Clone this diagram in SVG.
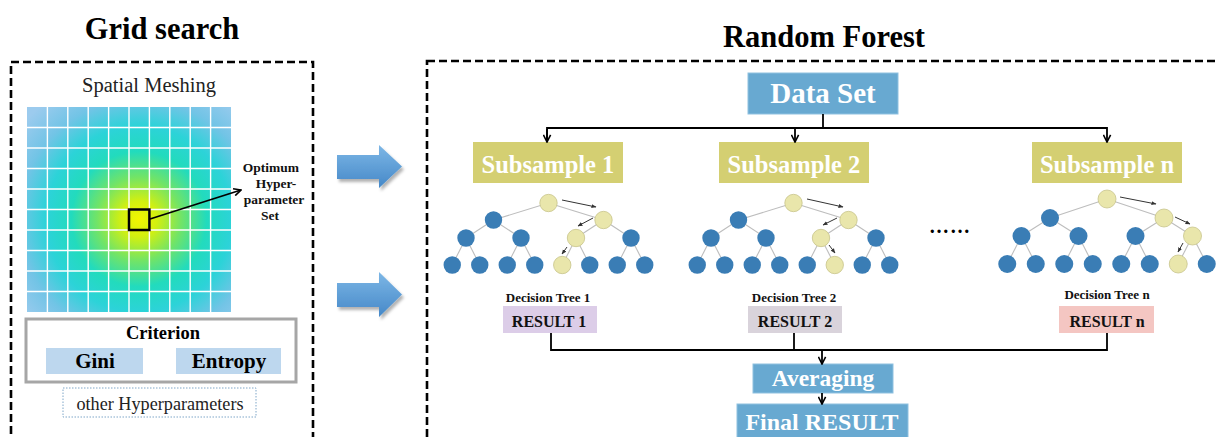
<svg xmlns="http://www.w3.org/2000/svg" width="1217" height="437" viewBox="0 0 1217 437">
<defs>
  <style>
    text { font-family: "Liberation Serif", "Times New Roman", serif; text-anchor: middle; }
    .b { font-weight: bold; }
    .title { font-size: 30.5px; font-weight: bold; fill: #000; }
    .dash { fill: none; stroke: #000; stroke-width: 2.6; stroke-dasharray: 8 4; }
    .conn { fill: none; stroke: #000; stroke-width: 1.8; }
    .edge { stroke: #bdbdbd; stroke-width: 1.1; }
    .bn { fill: #3a7db5; }
    .yn { fill: #e9e6ab; stroke: #c8c48c; stroke-width: 0.8; }
    .ta { stroke: #333; stroke-width: 1; marker-end: url(#small); }
    .sub { fill: #d4cf72; }
    .subt { font-size: 24.5px; font-weight: bold; fill: #fff; }
    .blue { fill: #68a9d1; stroke: #8fc1e0; stroke-width: 1; }
    .bluet { font-weight: bold; fill: #fff; }
    .dt { font-size: 13px; font-weight: bold; fill: #111; }
    .rt { font-size: 16px; font-weight: bold; fill: #111; }
    .gl { stroke: #ffffff; stroke-width: 1.4; }
    .opt { font-size: 13.5px; font-weight: bold; fill: #111; }
  </style>
  <radialGradient id="heat" gradientUnits="userSpaceOnUse" cx="139" cy="219" r="150">
    <stop offset="0" stop-color="#f2f500"/>
    <stop offset="0.12" stop-color="#d2f010"/>
    <stop offset="0.28" stop-color="#72e466"/>
    <stop offset="0.45" stop-color="#22dbbd"/>
    <stop offset="0.62" stop-color="#2cd3d8"/>
    <stop offset="0.8" stop-color="#72c4e6"/>
    <stop offset="1" stop-color="#9ccbee"/>
  </radialGradient>
  <linearGradient id="arrowGrad" x1="0" y1="0" x2="0" y2="1">
    <stop offset="0" stop-color="#7db7e6"/>
    <stop offset="1" stop-color="#4588c8"/>
  </linearGradient>
  <filter id="shadow" x="-20%" y="-20%" width="150%" height="150%">
    <feDropShadow dx="2" dy="3" stdDeviation="1.5" flood-color="#000" flood-opacity="0.3"/>
  </filter>
  <marker id="open" viewBox="0 0 10 10" refX="9" refY="5" markerUnits="userSpaceOnUse" markerWidth="9" markerHeight="9" orient="auto">
    <path d="M1,1 L9,5 L1,9" fill="none" stroke="#000" stroke-width="1.8"/>
  </marker>
  <marker id="small" viewBox="0 0 10 10" refX="9" refY="5" markerUnits="userSpaceOnUse" markerWidth="5" markerHeight="5" orient="auto">
    <path d="M0,1 L10,5 L0,9 z" fill="#333"/>
  </marker>
</defs>

<rect width="1217" height="437" fill="#ffffff"/>

<!-- Titles -->
<text class="title" x="162" y="39">Grid search</text>
<text class="title" x="824" y="47">Random Forest</text>

<!-- Frames -->
<rect class="dash" x="11" y="62" width="302" height="400"/>
<rect class="dash" x="427" y="61" width="820" height="400"/>

<!-- Grid search panel -->
<g id="spatial-meshing">
  <text x="149" y="92" font-size="20.5px" fill="#222">Spatial Meshing</text>
  <rect x="27" y="107" width="204" height="205" fill="url(#heat)"/>
  <g class="gl">
    <line x1="47.4" y1="107" x2="47.4" y2="312"/>
    <line x1="67.8" y1="107" x2="67.8" y2="312"/>
    <line x1="88.2" y1="107" x2="88.2" y2="312"/>
    <line x1="108.6" y1="107" x2="108.6" y2="312"/>
    <line x1="129" y1="107" x2="129" y2="312"/>
    <line x1="149.4" y1="107" x2="149.4" y2="312"/>
    <line x1="169.8" y1="107" x2="169.8" y2="312"/>
    <line x1="190.2" y1="107" x2="190.2" y2="312"/>
    <line x1="210.6" y1="107" x2="210.6" y2="312"/>
    <line x1="27" y1="127.5" x2="231" y2="127.5"/>
    <line x1="27" y1="148" x2="231" y2="148"/>
    <line x1="27" y1="168.5" x2="231" y2="168.5"/>
    <line x1="27" y1="189" x2="231" y2="189"/>
    <line x1="27" y1="209.5" x2="231" y2="209.5"/>
    <line x1="27" y1="230" x2="231" y2="230"/>
    <line x1="27" y1="250.5" x2="231" y2="250.5"/>
    <line x1="27" y1="271" x2="231" y2="271"/>
    <line x1="27" y1="291.5" x2="231" y2="291.5"/>
  </g>
  <rect x="129" y="209.5" width="20.4" height="20.5" fill="none" stroke="#000" stroke-width="2.5"/>
</g>

<g id="optimum">
  <text class="opt" x="271" y="172">Optimum</text>
  <text class="opt" x="276" y="188">Hyper-</text>
  <text class="opt" x="274" y="204">parameter</text>
  <text class="opt" x="270" y="220">Set</text>
</g>

<g id="criterion">
  <rect x="26" y="319" width="270" height="63" fill="#fff" stroke="#a6a6a6" stroke-width="3"/>
  <text class="b" x="163" y="339" font-size="18.5px">Criterion</text>
</g>
<g id="gini">
  <rect x="46" y="348" width="97" height="26" fill="#bdd7ee"/>
  <text class="b" x="95" y="368" font-size="21px">Gini</text>
</g>
<g id="entropy">
  <rect x="176" y="348" width="105" height="26" fill="#bdd7ee"/>
  <text class="b" x="229" y="368" font-size="21px">Entropy</text>
</g>
<g id="other-hyperparameters">
  <rect x="63" y="388" width="193" height="29" fill="#fff" stroke="#7fa6c8" stroke-width="1" stroke-dasharray="1.5 1.5"/>
  <text x="160" y="410" font-size="18.2px" fill="#222">other Hyperparameters</text>
</g>

<!-- Big blue arrows -->
<g id="big-arrows" filter="url(#shadow)">
  <polygon points="337,155 379,155 379,145 402,166.5 379,188 379,179 337,179" fill="url(#arrowGrad)"/>
  <polygon points="337,283 379,283 379,272 402,294.5 379,317 379,307 337,307" fill="url(#arrowGrad)"/>
</g>

<!-- Random forest nodes -->
<g id="data-set">
  <rect class="blue" x="748" y="73" width="150" height="41"/>
  <text class="bluet" x="823" y="103" font-size="29px">Data Set</text>
</g>
<g id="subsample-1">
  <rect class="sub" x="473" y="142" width="150" height="41"/>
  <text class="subt" x="548" y="173">Subsample 1</text>
</g>
<g id="subsample-2">
  <rect class="sub" x="719" y="142" width="150" height="41"/>
  <text class="subt" x="794" y="173">Subsample 2</text>
</g>
<g id="subsample-n">
  <rect class="sub" x="1032" y="142" width="150" height="41"/>
  <text class="subt" x="1107" y="173">Subsample n</text>
</g>

<!-- Tree 1 -->
<g id="tree-1">
  <g class="edge">
    <line x1="548.5" y1="203" x2="493.5" y2="220"/><line x1="548.5" y1="203" x2="603.5" y2="220"/>
    <line x1="493.5" y1="220" x2="466" y2="238"/><line x1="493.5" y1="220" x2="521" y2="238"/>
    <line x1="603.5" y1="220" x2="576" y2="238"/><line x1="603.5" y1="220" x2="631" y2="238"/>
    <line x1="466" y1="238" x2="452.25" y2="265"/><line x1="466" y1="238" x2="479.75" y2="265"/>
    <line x1="521" y1="238" x2="507.25" y2="265"/><line x1="521" y1="238" x2="534.75" y2="265"/>
    <line x1="576" y1="238" x2="562.25" y2="265"/><line x1="576" y1="238" x2="589.75" y2="265"/>
    <line x1="631" y1="238" x2="617.25" y2="265"/><line x1="631" y1="238" x2="644.75" y2="265"/>
  </g>
  <circle class="yn" cx="548.5" cy="203" r="8.7"/>
  <circle class="bn" cx="493.5" cy="220" r="8.7"/>
  <circle class="yn" cx="603.5" cy="220" r="8.7"/>
  <circle class="bn" cx="466" cy="238" r="8.7"/>
  <circle class="bn" cx="521" cy="238" r="8.7"/>
  <circle class="yn" cx="576" cy="238" r="8.7"/>
  <circle class="bn" cx="631" cy="238" r="8.7"/>
  <circle class="bn" cx="452.25" cy="265" r="8.7"/>
  <circle class="bn" cx="479.75" cy="265" r="8.7"/>
  <circle class="bn" cx="507.25" cy="265" r="8.7"/>
  <circle class="bn" cx="534.75" cy="265" r="8.7"/>
  <circle class="yn" cx="562.25" cy="265" r="8.7"/>
  <circle class="bn" cx="589.75" cy="265" r="8.7"/>
  <circle class="bn" cx="617.25" cy="265" r="8.7"/>
  <circle class="bn" cx="644.75" cy="265" r="8.7"/>
  <line class="ta" x1="562" y1="200" x2="596" y2="207"/>
  <line class="ta" x1="593" y1="218" x2="578" y2="226"/>
  <line class="ta" x1="567" y1="247" x2="562" y2="254"/>
</g>

<!-- Tree 2 -->
<g id="tree-2">
  <g class="edge">
    <line x1="793.5" y1="203" x2="738.5" y2="220"/><line x1="793.5" y1="203" x2="848.5" y2="220"/>
    <line x1="738.5" y1="220" x2="711" y2="238"/><line x1="738.5" y1="220" x2="766" y2="238"/>
    <line x1="848.5" y1="220" x2="821" y2="238"/><line x1="848.5" y1="220" x2="876" y2="238"/>
    <line x1="711" y1="238" x2="697.25" y2="265"/><line x1="711" y1="238" x2="724.75" y2="265"/>
    <line x1="766" y1="238" x2="752.25" y2="265"/><line x1="766" y1="238" x2="779.75" y2="265"/>
    <line x1="821" y1="238" x2="807.25" y2="265"/><line x1="821" y1="238" x2="834.75" y2="265"/>
    <line x1="876" y1="238" x2="862.25" y2="265"/><line x1="876" y1="238" x2="889.75" y2="265"/>
  </g>
  <circle class="yn" cx="793.5" cy="203" r="8.7"/>
  <circle class="bn" cx="738.5" cy="220" r="8.7"/>
  <circle class="yn" cx="848.5" cy="220" r="8.7"/>
  <circle class="bn" cx="711" cy="238" r="8.7"/>
  <circle class="bn" cx="766" cy="238" r="8.7"/>
  <circle class="yn" cx="821" cy="238" r="8.7"/>
  <circle class="bn" cx="876" cy="238" r="8.7"/>
  <circle class="bn" cx="697.25" cy="265" r="8.7"/>
  <circle class="bn" cx="724.75" cy="265" r="8.7"/>
  <circle class="bn" cx="752.25" cy="265" r="8.7"/>
  <circle class="bn" cx="779.75" cy="265" r="8.7"/>
  <circle class="bn" cx="807.25" cy="265" r="8.7"/>
  <circle class="yn" cx="834.75" cy="265" r="8.7"/>
  <circle class="bn" cx="862.25" cy="265" r="8.7"/>
  <circle class="bn" cx="889.75" cy="265" r="8.7"/>
  <line class="ta" x1="807" y1="199" x2="843" y2="207"/>
  <line class="ta" x1="837" y1="218" x2="823" y2="225"/>
  <line class="ta" x1="829" y1="245" x2="835" y2="253"/>
</g>

<text class="b" x="950" y="233" font-size="20px" letter-spacing="1">……</text>

<!-- Tree n -->
<g id="tree-n">
  <g class="edge">
    <line x1="1107" y1="199" x2="1050" y2="218"/><line x1="1107" y1="199" x2="1164" y2="218"/>
    <line x1="1050" y1="218" x2="1021.5" y2="236"/><line x1="1050" y1="218" x2="1078.5" y2="236"/>
    <line x1="1164" y1="218" x2="1135.5" y2="236"/><line x1="1164" y1="218" x2="1192.5" y2="236"/>
    <line x1="1021.5" y1="236" x2="1007.25" y2="264"/><line x1="1021.5" y1="236" x2="1035.75" y2="264"/>
    <line x1="1078.5" y1="236" x2="1064.25" y2="264"/><line x1="1078.5" y1="236" x2="1092.75" y2="264"/>
    <line x1="1135.5" y1="236" x2="1121.25" y2="264"/><line x1="1135.5" y1="236" x2="1149.75" y2="264"/>
    <line x1="1192.5" y1="236" x2="1178.25" y2="264"/><line x1="1192.5" y1="236" x2="1206.75" y2="264"/>
  </g>
  <circle class="yn" cx="1107" cy="199" r="9"/>
  <circle class="bn" cx="1050" cy="218" r="9"/>
  <circle class="yn" cx="1164" cy="218" r="9"/>
  <circle class="bn" cx="1021.5" cy="236" r="9"/>
  <circle class="bn" cx="1078.5" cy="236" r="9"/>
  <circle class="bn" cx="1135.5" cy="236" r="9"/>
  <circle class="yn" cx="1192.5" cy="236" r="9"/>
  <circle class="bn" cx="1007.25" cy="264" r="9"/>
  <circle class="bn" cx="1035.75" cy="264" r="9"/>
  <circle class="bn" cx="1064.25" cy="264" r="9"/>
  <circle class="bn" cx="1092.75" cy="264" r="9"/>
  <circle class="bn" cx="1121.25" cy="264" r="9"/>
  <circle class="bn" cx="1149.75" cy="264" r="9"/>
  <circle class="yn" cx="1178.25" cy="264" r="9"/>
  <circle class="bn" cx="1206.75" cy="264" r="9"/>
  <line class="ta" x1="1120" y1="197" x2="1156" y2="204"/>
  <line class="ta" x1="1175" y1="217" x2="1190" y2="224"/>
  <line class="ta" x1="1183" y1="243" x2="1178" y2="252"/>
</g>

<!-- Results -->
<g id="result-1">
  <text class="dt" x="548" y="302">Decision Tree 1</text>
  <rect x="503" y="306" width="94" height="27" fill="#dccde8"/>
  <text class="rt" x="549" y="327">RESULT 1</text>
</g>
<g id="result-2">
  <text class="dt" x="794" y="302">Decision Tree 2</text>
  <rect x="748" y="306" width="94" height="27" fill="#d9d3db"/>
  <text class="rt" x="795" y="327">RESULT 2</text>
</g>
<g id="result-n">
  <text class="dt" x="1107" y="299">Decision Tree n</text>
  <rect x="1059" y="306" width="95" height="27" fill="#f4c6c2"/>
  <text class="rt" x="1107" y="327">RESULT n</text>
</g>

<g id="averaging">
  <rect class="blue" x="753" y="364" width="140" height="29"/>
  <text class="bluet" x="823" y="386" font-size="23.5px">Averaging</text>
</g>
<g id="final-result">
  <rect class="blue" x="737" y="404" width="171" height="40"/>
  <text class="bluet" x="822" y="430" font-size="24px">Final RESULT</text>
</g>

<!-- Connectors -->
<g id="connectors">
  <line class="conn" x1="150" y1="219" x2="241" y2="190" stroke-width="1.5" marker-end="url(#open)"/>
  <polyline class="conn" points="823,114 823,128"/>
  <polyline class="conn" points="547,142 547,128 1107,128 1107,142" marker-end="url(#open)"/>
  <line class="conn" x1="547" y1="129" x2="547" y2="142" marker-end="url(#open)"/>
  <line class="conn" x1="795" y1="128" x2="795" y2="142" marker-end="url(#open)"/>
  <polyline class="conn" points="551,333 551,350 1107,350 1107,333"/>
  <line class="conn" x1="794" y1="333" x2="794" y2="350"/>
  <line class="conn" x1="822" y1="350" x2="822" y2="364" marker-end="url(#open)"/>
  <line class="conn" x1="822" y1="393" x2="822" y2="404" marker-end="url(#open)"/>
</g>
</svg>
